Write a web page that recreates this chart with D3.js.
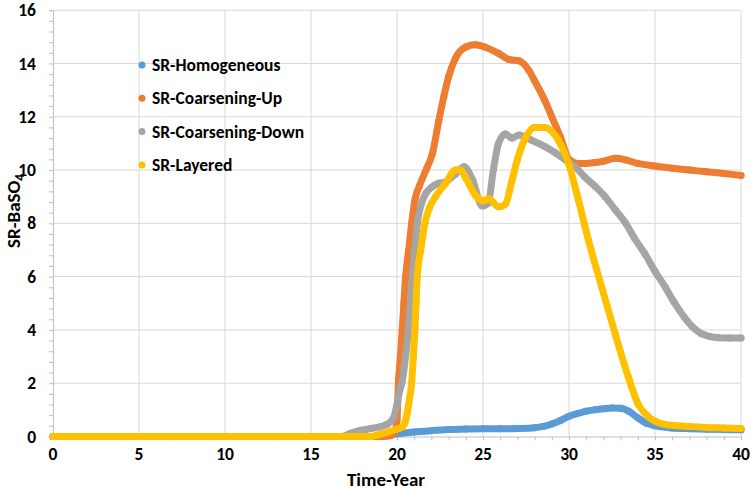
<!DOCTYPE html>
<html><head><meta charset="utf-8">
<script src="https://cdn.jsdelivr.net/npm/d3@7"></script>
<style>
html,body{margin:0;padding:0;background:#fff;}
svg{display:block;}
text{font-family:Carlito,Lato,"Liberation Sans",sans-serif;font-weight:bold;fill:#000;}
</style></head>
<body><svg id="c" width="750" height="490"></svg>
<script>
// ---- data ----
const seriesNames = ["SR-Homogeneous","SR-Coarsening-Up","SR-Coarsening-Down","SR-Layered"];
const seriesColors = ["#5B9BD5","#ED7D31","#A5A5A5","#FFC000"];

const homT = [0,5,10,15,18.5,19.2,20,21,22,23,24,25,26,27,28,28.5,29,29.5,30,30.5,31,31.5,32,32.5,33,33.5,34,34.5,35,36,37,38,39,40];
const homV = [0,0,0,0,0,0.02,0.1,0.17,0.22,0.26,0.28,0.29,0.29,0.3,0.33,0.38,0.47,0.6,0.76,0.86,0.95,1.0,1.04,1.07,1.06,0.94,0.7,0.5,0.4,0.32,0.29,0.27,0.26,0.25];

const upT = [0,5,10,15,19,19.6,19.85,20.0,20.08,20.2,20.3,20.4,20.5,20.68,20.85,21.05,21.3,21.75,22.05,22.43,22.72,23.0,23.4,24.0,24.55,25.1,25.9,26.5,27.1,27.65,28.0,28.6,29.0,29.5,30.0,30.5,31.0,31.5,32.0,32.7,33.3,34.0,35.0,36,37,38,39,40];
const upV = [0,0,0,0,0,0.03,0.15,0.6,2.0,3.0,4.0,5.0,6.0,7.0,8.0,8.9,9.4,10.1,10.6,11.85,12.75,13.5,14.2,14.62,14.7,14.62,14.38,14.15,14.1,13.76,13.35,12.6,12.0,11.25,10.4,10.25,10.25,10.28,10.33,10.44,10.38,10.25,10.15,10.07,10.0,9.94,9.87,9.8];

const downT = [0,5,10,15,16.8,17.3,17.8,18.5,19.0,19.4,19.8,20.0,20.15,20.28,20.5,20.66,20.78,20.89,21.03,21.18,21.4,21.7,22.0,22.4,22.8,23.4,23.9,24.4,24.95,25.3,25.6,25.9,26.3,26.7,27.1,27.8,28.6,29.2,29.8,30.4,30.9,31.5,32.1,32.7,33.3,33.8,34.4,35.0,35.6,36.1,36.7,37.2,37.7,38.2,38.7,39.3,40];
const downV = [0,0,0,0,0,0.12,0.22,0.3,0.36,0.45,0.7,1.2,1.7,2.0,3.0,4.0,5.0,6.0,7.0,8.0,8.7,9.15,9.35,9.5,9.55,9.85,10.12,9.62,8.65,8.75,10.0,11.0,11.35,11.2,11.32,11.13,10.88,10.65,10.38,10.1,9.75,9.4,9.0,8.5,8.0,7.45,6.87,6.2,5.6,5.05,4.48,4.1,3.86,3.75,3.71,3.7,3.7];

const layT = [0,5,10,15,18.5,19.0,19.5,20.0,20.3,20.45,20.6,20.72,20.85,20.95,21.04,21.11,21.18,21.38,21.62,21.9,22.24,22.82,23.4,23.7,24.0,24.56,25.0,25.33,25.9,26.3,26.69,27.0,27.46,28.0,28.6,29.4,30.0,30.55,31.13,31.9,32.68,33.45,34.03,34.6,35.0,35.6,36.9,38.0,39.0,40];
const layV = [0,0,0,0,0,0.08,0.17,0.28,0.35,0.5,0.9,1.4,2.0,3.0,4.0,5.0,6.0,7.0,8.0,8.6,9.0,9.5,10.0,10.0,9.7,9.05,8.85,8.92,8.62,8.72,9.62,10.4,11.2,11.6,11.6,11.1,10.2,8.87,7.37,5.61,3.86,2.23,1.2,0.75,0.58,0.45,0.38,0.34,0.32,0.3];

const xTicks = [0,5,10,15,20,25,30,35,40];
const yTicks = [0,2,4,6,8,10,12,14,16];

// ---- chart ----
const svg = d3.select("#c");
const x = d3.scaleLinear().domain([0,40]).range([53,741]);
const y = d3.scaleLinear().domain([0,16]).range([436.5,10.2]);

const series = [[homT,homV],[upT,upV],[downT,downV],[layT,layV]].map((s,i)=>({
  name: seriesNames[i], color: seriesColors[i],
  pts: s[0].map((t,j)=>({t:t, v:s[1][j]}))
}));

// gridlines
const grid = svg.append("g");
grid.selectAll("line.h").data(yTicks.filter(d=>d>0)).join("line")
  .attr("x1",x(0)).attr("x2",x(40)).attr("y1",d=>y(d)).attr("y2",d=>y(d))
  .attr("stroke","#d9d9d9").attr("stroke-width",1);
grid.selectAll("line.v").data(xTicks.filter(d=>d>0)).join("line")
  .attr("x1",d=>x(d)).attr("x2",d=>x(d)).attr("y1",y(0)).attr("y2",y(16))
  .attr("stroke","#d9d9d9").attr("stroke-width",1);

// axes
const yMinor = d3.range(0,16.01,0.4);
const xMinor = d3.range(0,40.01,1);
const yAxis = svg.append("g").attr("transform",`translate(${x(0)},0)`)
  .call(d3.axisLeft(y).tickValues(yMinor).tickSize(4).tickFormat(""));
yAxis.selectAll("path,line").attr("stroke","#bfbfbf");
const xAxis = svg.append("g").attr("transform",`translate(0,${y(0)})`)
  .call(d3.axisBottom(x).tickValues(xMinor).tickSize(4).tickFormat("").tickSizeOuter(0));
xAxis.selectAll("path,line").attr("stroke","#bfbfbf");

// tick labels
svg.append("g").selectAll("text").data(yTicks).join("text")
  .attr("x",36).attr("y",d=>y(d)).attr("dy","0.35em").attr("text-anchor","end")
  .style("font-size","17.5px").text(d=>d);
svg.append("g").selectAll("text").data(xTicks).join("text")
  .attr("x",d=>x(d)).attr("y",454).attr("dy","0.35em").attr("text-anchor","middle")
  .style("font-size","17.5px").text(d=>d);

// axis titles
svg.append("text").attr("x",386).attr("y",479).attr("dy","0.35em").attr("text-anchor","middle")
  .style("font-size","19px").text("Time-Year");
const yt = svg.append("text").attr("transform","translate(13,211) rotate(-90)")
  .attr("text-anchor","middle").attr("dy","0.35em").style("font-size","19px");
yt.append("tspan").text("SR-BaSO");
yt.append("tspan").attr("dy","0.35em").style("font-size","13px").text("4");

// series
const line = d3.line().x(d=>x(d.t)).y(d=>y(d.v)).curve(d3.curveMonotoneX);
const sg = svg.append("g");
series.forEach(s=>{
  const g = sg.append("g");
  g.append("path").datum(s.pts).attr("d",line).attr("fill","none")
    .attr("stroke",s.color).attr("stroke-width",7).attr("stroke-linejoin","round").attr("stroke-linecap","round");
  g.selectAll("circle").data(s.pts).join("circle")
    .attr("cx",d=>x(d.t)).attr("cy",d=>y(d.v)).attr("r",3.5).attr("fill",s.color);
});

// legend
const lg = svg.append("g");
series.forEach((s,i)=>{
  const yy = 65 + i*33.3;
  lg.append("circle").attr("cx",142).attr("cy",yy).attr("r",3.5).attr("fill",s.color);
  lg.append("text").attr("x",152).attr("y",yy).attr("dy","0.35em").style("font-size","17.5px").text(s.name);
});
</script></body></html>
